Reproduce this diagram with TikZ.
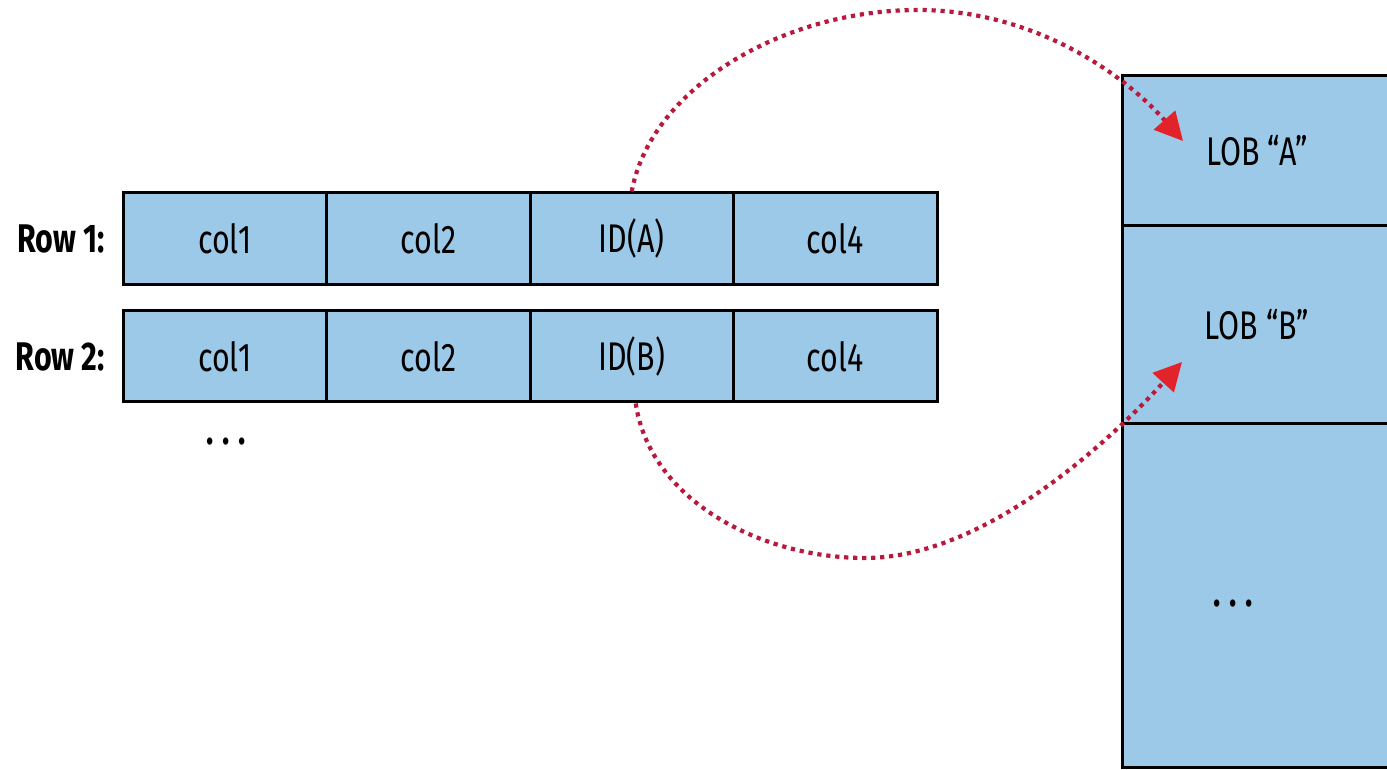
\documentclass[tikz,border=0pt]{standalone}
\usepackage{fontspec}
\setmainfont{Fira Sans}[FakeStretch=0.76]
\usetikzlibrary{arrows.meta}
\definecolor{cellblue}{RGB}{157,201,232}
\definecolor{dotred}{RGB}{184,26,62}
\definecolor{tipred}{RGB}{226,36,42}
\tikzset{
  cell/.style={draw=black, line width=3pt, fill=cellblue, inner sep=0pt,
    minimum width=203.5pt, minimum height=92pt, font=\fontsize{40}{46}\selectfont},
  lob/.style={draw=black, line width=3pt, fill=cellblue, inner sep=0pt,
    minimum width=270pt, font=\fontsize{40}{46}\selectfont},
  rowlabel/.style={font=\fontsize{40}{46}\selectfont\bfseries, anchor=east, inner sep=0pt},
  dotsty/.style={font=\fontsize{40}{46}\selectfont\bfseries, inner sep=0pt},
  link/.style={draw=dotred, line width=4.2pt, dash pattern=on 4.2pt off 4.8pt,
    -{Triangle[length=28pt,width=28pt,color=tipred]}}
}
\begin{document}
\begin{tikzpicture}[x=1pt,y=1pt]
\useasboundingbox (0,0) rectangle (1387,769);
\clip (0,0) rectangle (1387,769);
% rows
\foreach \r/\y/\h in {1/530/92, 2/412.5/91}{
  \node[cell, minimum height=\h pt] (r\r c1) at (224.75,\y) {col1};
  \node[cell, minimum height=\h pt] (r\r c2) at (428.25,\y) {col2};
  \node[cell, minimum height=\h pt] (r\r c3) at (631.75,\y) {\ifnum\r=1 ID(A)\else ID(B)\fi};
  \node[cell, minimum height=\h pt] (r\r c4) at (835.25,\y) {col4};
}
\node[rowlabel] (row1) at (105,530) {Row 1:};
\node[rowlabel] (row2) at (105,412.5) {Row 2:};
\node[dotsty] (dots1) at (226,327) {.\hspace{9pt}.\hspace{9pt}.};
% LOB column
\node[lob, minimum height=150pt] (lobA) at (1257,618) {LOB “A”};
\node[lob, minimum height=198pt] (lobB) at (1257,444) {LOB “B”};
\node[lob, minimum height=343pt] (lobC) at (1257,173.5) {};
\node[dotsty] (dots2) at (1233,165) {.\hspace{9pt}.\hspace{9pt}.};
% links
\coordinate (tipA) at (1183,628);
\coordinate (tipB) at (1182,407);
\coordinate (topA) at (918,759);
\coordinate (botB) at (865,211);
\draw[link] (r1c3.north) .. controls (650,679) and (780,759) .. (topA)
  .. controls (1030,759) and (1120,699) .. (tipA);
\draw[link] ([xshift=4pt]r2c3.south) .. controls (650,269) and (760,211) .. (botB)
  .. controls (990,211) and (1120,339) .. (tipB);
\end{tikzpicture}
\end{document}
